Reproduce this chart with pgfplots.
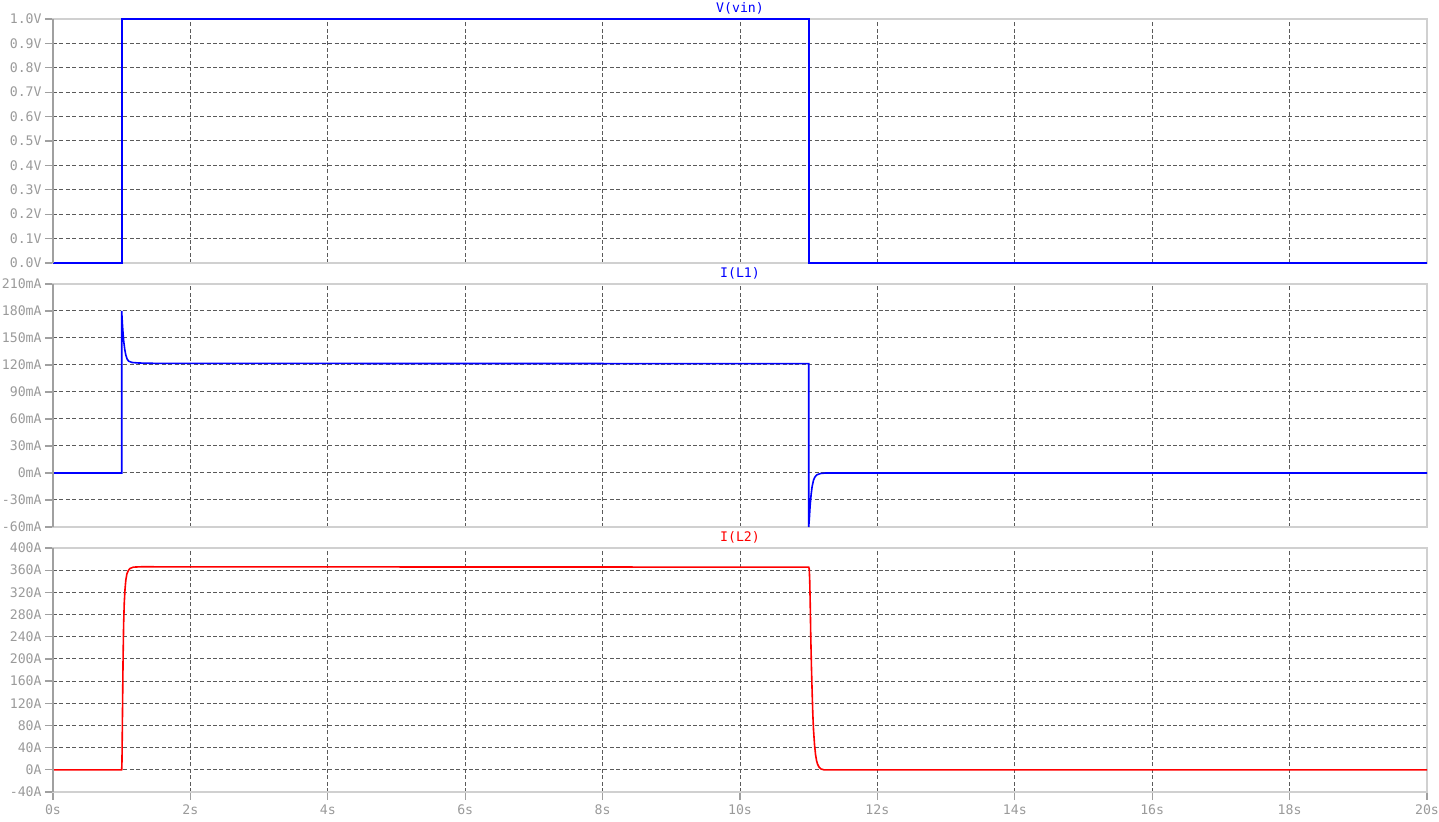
\documentclass[border=0pt]{standalone}
\usepackage{fontspec}
\setmonofont{DejaVu Sans Mono}
\usepackage{pgfplots}
\pgfplotsset{compat=1.18}
\definecolor{framegray}{HTML}{D0D0D0}
\definecolor{axisgray}{HTML}{A0A0A0}
\definecolor{gridgray}{HTML}{5A5A5A}
\definecolor{labelgray}{HTML}{9A9A9A}
\definecolor{ltblue}{HTML}{0000FF}
\definecolor{ltred}{HTML}{FF0000}
\newcommand\ltfont{\ttfamily\fontsize{6.6}{8}\selectfont}
% tick label in the text font, whatever mode pgfplots sets it in
\newcommand\ltlab[2]{\mbox{\ltfont\pgfmathprintnumber[fixed,precision=#1,fixed zerofill]{\tick}#2}}

\pgfplotsset{
  ltpanel/.style={
    scale only axis, width=687pt, height=122pt,
    anchor=south west, clip=false,
    xmin=0, xmax=20,
    xtick={0,2,4,6,8,10,12,14,16,18,20},
    axis line style={framegray, line width=0.6pt},
    tick align=outside, major tick length=4pt,
    tick style={axisgray, line width=0.6pt},
    xtick pos=bottom, ytick pos=left,
    minor xtick={2,4,6,8,10,12,14,16,18},
    minor tick length=0pt,
    xminorgrids=true, yminorgrids=true,
    minor grid style={gridgray, dash pattern=on 2pt off 1.2pt, line width=0.5pt},
    ticklabel style={font=\ltfont, text=labelgray},
    yticklabel style={inner sep=1.5pt},
    xticklabel style={inner sep=2pt},
    /pgf/number format/assume math mode=true,
  },
  noxlabels/.style={xmajorticks=false, xticklabel=\empty},
  ltline/.style={line width=0.8pt},
}

\begin{document}
\begin{tikzpicture}
\useasboundingbox (0,0) rectangle (719.5pt,411pt);

% V(vin)
\begin{axis}[ltpanel, noxlabels, at={(26.5pt,279.5pt)},
    ymin=0, ymax=1,
    ytick={0,0.1,0.2,0.3,0.4,0.5,0.6,0.7,0.8,0.9,1},
    yticklabel={\ltlab{1}{V}},
    minor ytick={0.1,0.2,0.3,0.4,0.5,0.6,0.7,0.8,0.9}]
\addplot[ltblue, ltline] coordinates {
  (0,0) (1,0) (1,1) (11,1) (11,0) (20,0)
};
\draw[axisgray, line width=0.6pt] (rel axis cs:0,0) -- (rel axis cs:0,1);
\node[font=\ltfont, text=ltblue, anchor=base, yshift=3pt] at (rel axis cs:0.5,1) {V(vin)};
\end{axis}

% I(L1)
\begin{axis}[ltpanel, noxlabels, at={(26.5pt,147.5pt)}, height=121.5pt,
    ymin=-60, ymax=210,
    ytick={-60,-30,0,30,60,90,120,150,180,210},
    yticklabel={\ltlab{0}{mA}},
    minor ytick={-30,0,30,60,90,120,150,180}]
\addplot[ltblue, ltline] coordinates {
  (0,0) (1,0) (1,180) (1.01,166) (1.02,155) (1.03,146) (1.045,137)
  (1.06,131) (1.08,126.5) (1.1,124.3) (1.15,122.8) (1.25,122.2)
  (1.5,121.8) (11,121.5) (11,-60) (11.01,-50) (11.02,-37) (11.035,-24)
  (11.05,-15) (11.07,-8) (11.09,-4.5) (11.12,-2) (11.17,-0.6)
  (11.25,0) (20,0)
};
\draw[axisgray, line width=0.6pt] (rel axis cs:0,0) -- (rel axis cs:0,1);
\node[font=\ltfont, text=ltblue, anchor=base, yshift=3pt] at (rel axis cs:0.5,1) {I(L1)};
\end{axis}

% I(L2)
\begin{axis}[ltpanel, at={(26.5pt,15pt)},
    xticklabel={\ltlab{0}{s}},
    ymin=-40, ymax=400,
    ytick={-40,0,40,80,120,160,200,240,280,320,360,400},
    yticklabel={\ltlab{0}{A}},
    minor ytick={0,40,80,120,160,200,240,280,320,360}]
\addplot[ltred, ltline] coordinates {
  (0,0) (1,0) (1.004,15) (1.008,60) (1.013,120) (1.02,200) (1.028,262)
  (1.037,300) (1.048,325) (1.06,342) (1.075,353) (1.095,359) (1.12,363)
  (1.17,365.5) (1.3,366.2) (1.6,366) (11,365.5) (11.008,362) (11.015,340)
  (11.022,300) (11.03,240) (11.04,185) (11.05,140) (11.06,100) (11.07,72)
  (11.085,45) (11.1,27) (11.115,16) (11.13,10) (11.15,5) (11.18,1.5)
  (11.22,0) (20,0)
};
\draw[axisgray, line width=0.6pt] (rel axis cs:0,0) -- (rel axis cs:0,1);
\node[font=\ltfont, text=ltred, anchor=base, yshift=3pt] at (rel axis cs:0.5,1) {I(L2)};
\end{axis}
\end{tikzpicture}
\end{document}
